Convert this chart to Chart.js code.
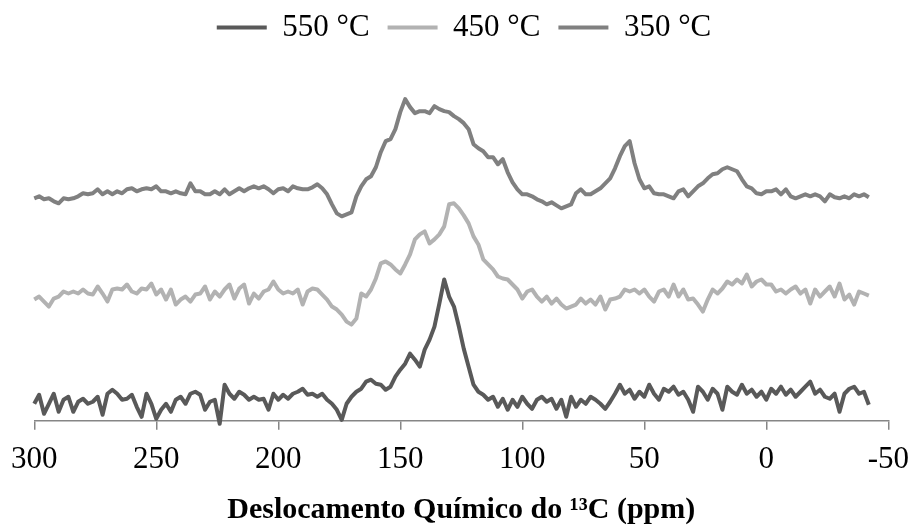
<!DOCTYPE html>
<html>
<head>
<meta charset="utf-8">
<title>RMN 13C</title>
<script src="https://cdn.jsdelivr.net/npm/chart.js@4.4.1/dist/chart.umd.min.js"></script>
<style>
    body { margin: 0; background: #ffffff; }
    #chart-container { width: 920px; height: 528px; }
</style>
</head>
<body>
<div id="chart-container">
    <canvas id="nmr-chart" width="920" height="528"></canvas>
</div>
<script>
// Chemical shift (ppm), one reading every 2 ppm
const shiftPpm = [
    300, 298, 296, 294, 292, 290, 288, 286, 284, 282,
    280, 278, 276, 274, 272, 270, 268, 266, 264, 262,
    260, 258, 256, 254, 252, 250, 248, 246, 244, 242,
    240, 238, 236, 234, 232, 230, 228, 226, 224, 222,
    220, 218, 216, 214, 212, 210, 208, 206, 204, 202,
    200, 198, 196, 194, 192, 190, 188, 186, 184, 182,
    180, 178, 176, 174, 172, 170, 168, 166, 164, 162,
    160, 158, 156, 154, 152, 150, 148, 146, 144, 142,
    140, 138, 136, 134, 132, 130, 128, 126, 124, 122,
    120, 118, 116, 114, 112, 110, 108, 106, 104, 102,
    100, 98, 96, 94, 92, 90, 88, 86, 84, 82,
    80, 78, 76, 74, 72, 70, 68, 66, 64, 62,
    60, 58, 56, 54, 52, 50, 48, 46, 44, 42,
    40, 38, 36, 34, 32, 30, 28, 26, 24, 22,
    20, 18, 16, 14, 12, 10, 8, 6, 4, 2,
    0, -2, -4, -6, -8, -10, -12, -14, -16, -18,
    -20, -22, -24, -26, -28, -30, -32, -34, -36, -38,
    -40, -42
];

// Intensity (a.u., stacked spectra)
const int550 = [
    17, 26, 7, 17, 27, 9, 21, 24, 9, 19,
    22, 17, 19, 24, 6, 27, 31, 27, 21, 22,
    26, 14, 4, 27, 17, 2, 11, 17, 9, 21,
    24, 17, 27, 29, 26, 11, 19, 21, -3, 36,
    27, 22, 29, 26, 21, 24, 21, 22, 11, 27,
    21, 26, 22, 27, 29, 32, 26, 27, 24, 27,
    21, 17, 11, 1, 17, 24, 29, 32, 39, 41,
    37, 36, 31, 34, 44, 51, 57, 67, 61, 54,
    71, 81, 94, 117, 141, 124, 114, 94, 72, 54,
    36, 29, 26, 21, 24, 14, 22, 11, 21, 14,
    24, 17, 12, 21, 24, 19, 22, 12, 21, 4,
    24, 14, 21, 17, 24, 21, 17, 12, 19, 27,
    36, 27, 31, 22, 29, 24, 36, 27, 21, 32,
    29, 34, 26, 29, 21, 9, 34, 29, 21, 32,
    27, 11, 34, 29, 26, 36, 27, 31, 24, 29,
    21, 32, 27, 34, 26, 31, 24, 29, 34, 39,
    27, 31, 24, 22, 27, 9, 27, 32, 34, 27,
    29, 16
];

const int450 = [
    121, 124, 119, 114, 122, 124, 129, 127, 129, 127,
    131, 127, 126, 134, 127, 119, 131, 132, 131, 136,
    129, 127, 132, 131, 137, 126, 131, 121, 131, 116,
    121, 124, 119, 126, 127, 134, 121, 129, 124, 131,
    136, 122, 132, 136, 117, 127, 122, 129, 131, 139,
    131, 127, 129, 127, 131, 116, 129, 132, 131, 126,
    121, 114, 111, 106, 99, 96, 102, 127, 124, 131,
    142, 157, 159, 156, 151, 147, 156, 166, 181, 186,
    189, 177, 181, 186, 194, 216, 217, 212, 205, 197,
    184, 176, 161, 156, 151, 144, 142, 141, 136, 131,
    122, 129, 131, 124, 119, 124, 117, 122, 116, 112,
    114, 116, 122, 117, 121, 116, 124, 111, 121, 122,
    124, 131, 129, 131, 127, 131, 124, 119, 129, 131,
    124, 136, 124, 131, 121, 122, 116, 109, 121, 131,
    127, 132, 139, 136, 141, 137, 146, 134, 139, 141,
    136, 136, 129, 131, 127, 131, 134, 127, 131, 117,
    131, 124, 129, 134, 124, 137, 121, 126, 116, 129,
    127, 125
];

const int350 = [
    222, 224, 221, 222, 219, 217, 222, 221, 222, 224,
    227, 226, 227, 231, 226, 229, 226, 229, 227, 231,
    232, 229, 231, 232, 231, 234, 229, 229, 227, 229,
    227, 226, 237, 229, 229, 226, 226, 229, 226, 231,
    226, 229, 232, 229, 232, 234, 232, 234, 231, 227,
    231, 232, 229, 234, 232, 231, 231, 233, 236, 232,
    226, 216, 207, 204, 206, 208, 224, 234, 241, 244,
    253, 268, 279, 281, 291, 308, 321, 313, 307, 309,
    309, 307, 314, 311, 309, 308, 304, 301, 297, 291,
    276, 272, 269, 263, 263, 256, 261, 248, 238, 231,
    226, 226, 224, 221, 219, 216, 218, 215, 212, 214,
    216, 227, 231, 226, 226, 229, 232, 237, 242, 252,
    264, 274, 279, 257, 241, 232, 234, 227, 226, 226,
    224, 222, 229, 231, 224, 229, 234, 237, 242, 246,
    247, 251, 253, 251, 249, 241, 234, 232, 227, 226,
    229, 229, 231, 226, 231, 224, 222, 224, 226, 224,
    226, 224, 219, 226, 223, 222, 224, 222, 226, 224,
    226, 223
];

const seriesLabels = ['550 °C', '450 °C', '350 °C'];
const seriesColors = ['#595959', '#b2b2b2', '#808080'];
const seriesValues = [int550, int450, int350];

const serifFont = "'Liberation Serif', 'Times New Roman', serif";

const ctx = document.getElementById('nmr-chart').getContext('2d');

const nmrChart = new Chart(ctx, {
    type: 'line',
    data: {
        datasets: seriesLabels.map((label, s) => ({
            label: label,
            data: shiftPpm.map((ppm, i) => ({ x: ppm, y: seriesValues[s][i] })),
            borderColor: seriesColors[s],
            backgroundColor: seriesColors[s],
            borderWidth: 4,
            borderJoinStyle: 'round',
            pointRadius: 0,
            tension: 0,
            clip: false
        }))
    },
    options: {
        responsive: false,
        animation: false,
        devicePixelRatio: 1,
        layout: {
            padding: { top: -6, left: 34, right: 26, bottom: 0 }
        },
        plugins: {
            legend: {
                position: 'top',
                labels: {
                    color: '#000000',
                    font: { family: serifFont, size: 31 },
                    boxWidth: 50,
                    boxHeight: 4,
                    padding: 18,
                    // plain line swatch, no stroke round the box
                    generateLabels: chart => {
                        const items = Chart.defaults.plugins.legend.labels.generateLabels(chart);
                        items.forEach(item => {
                            item.lineWidth = 0;
                            item.fillStyle = item.strokeStyle;
                        });
                        return items;
                    }
                }
            },
            tooltip: { enabled: false }
        },
        scales: {
            x: {
                type: 'linear',
                reverse: true,
                min: -50,
                max: 300,
                ticks: {
                    stepSize: 50,
                    padding: 11,
                    color: '#000000',
                    font: { family: serifFont, size: 31 }
                },
                grid: {
                    drawOnChartArea: false,
                    drawTicks: true,
                    tickLength: 9,
                    color: '#868686',
                    lineWidth: 1.5
                },
                border: { color: '#868686', width: 1.5 },
                title: {
                    display: true,
                    text: 'Deslocamento Químico do ¹³C (ppm)',
                    color: '#000000',
                    font: { family: serifFont, size: 30, weight: 'bold' },
                    padding: { top: 3, bottom: 0 }
                }
            },
            y: {
                display: false,
                min: 0,
                max: 367
            }
        }
    }
});
</script>
</body>
</html>
